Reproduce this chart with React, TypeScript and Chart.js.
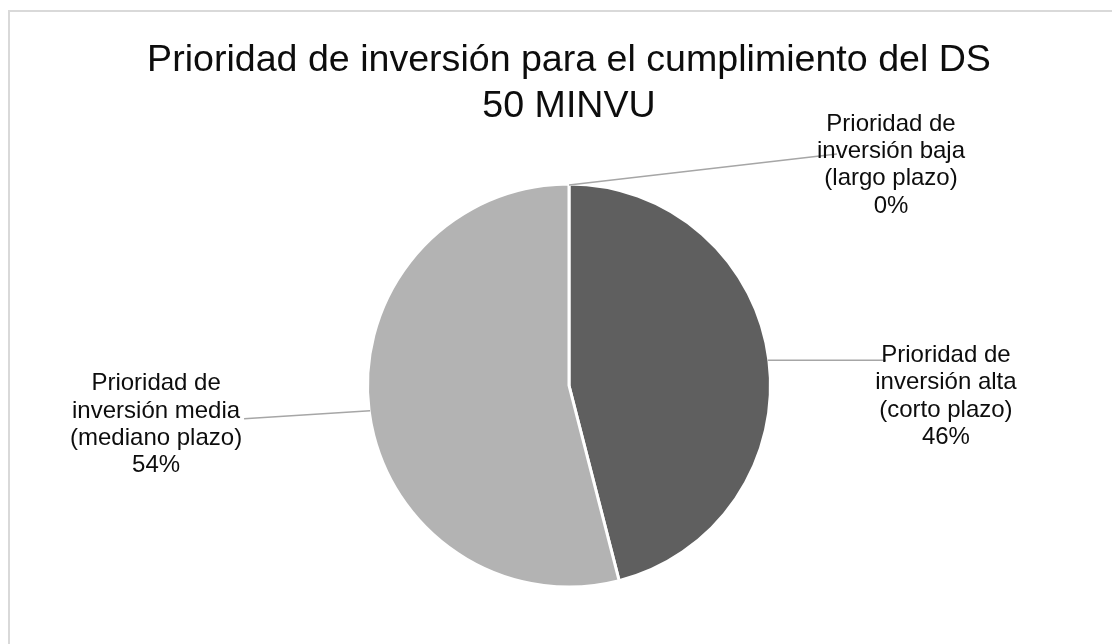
import React, { useEffect, useRef } from "react";
import { Chart, registerables } from "chart.js";

Chart.register(...registerables);

const TITLE_LINES = ["Prioridad de inversión para el cumplimiento del DS", "50 MINVU"];
const CATEGORY_LINES = [
  ["Prioridad de", "inversión alta", "(corto plazo)"],
  ["Prioridad de", "inversión media", "(mediano plazo)"],
  ["Prioridad de", "inversión baja", "(largo plazo)"],
];
const VALUES = [46, 54, 0];
const COLORS = ["#5f5f5f", "#b3b3b3", "#8c8c8c"];

// label layout: offset of label block centre from slice edge point, and leader end relative to label centre
const LABEL_OFFSET = [
  [178, 36],
  [-214, 14],
  [322, -20],
];
const LEADER_END = [
  [-60, -36],
  [88, -6],
  [-54, -11],
];

const FONT = '"Liberation Sans", Arial, sans-serif';

const labelPlugin = {
  id: "pieLabels",
  afterDraw(chart: any) {
    const ctx = chart.ctx;
    const meta = chart.getDatasetMeta(0);
    const total = VALUES.reduce((a, b) => a + b, 0);
    ctx.save();
    // title
    ctx.fillStyle = "#0d0d0d";
    ctx.font = `37.6px ${FONT}`;
    ctx.textAlign = "center";
    ctx.textBaseline = "middle";
    const cx = (chart.chartArea.left + chart.chartArea.right) / 2;
    TITLE_LINES.forEach((t, i) => ctx.fillText(t, cx, 61 + i * 46));

    meta.data.forEach((arc: any, i: number) => {
      const p = arc.getProps(["x", "y", "startAngle", "endAngle", "outerRadius"], true);
      const mid = (p.startAngle + p.endAngle) / 2;
      const ex = p.x + Math.cos(mid) * (p.outerRadius - 1);
      const ey = p.y + Math.sin(mid) * (p.outerRadius - 1);
      const lx = ex + LABEL_OFFSET[i][0];
      const ly = ey + LABEL_OFFSET[i][1];
      ctx.strokeStyle = "#a6a6a6";
      ctx.lineWidth = 1.5;
      ctx.beginPath();
      ctx.moveTo(ex, ey);
      ctx.lineTo(lx + LEADER_END[i][0], ly + LEADER_END[i][1]);
      ctx.stroke();
      const lines = [...CATEGORY_LINES[i], `${Math.round((VALUES[i] / total) * 100)}%`];
      ctx.fillStyle = "#0d0d0d";
      ctx.font = `24px ${FONT}`;
      const lh = 27.3;
      const top = ly - ((lines.length - 1) * lh) / 2;
      lines.forEach((t, j) => ctx.fillText(t, lx, top + j * lh));
    });
    ctx.restore();
  },
};

export default function App() {
  const ref = useRef<HTMLCanvasElement>(null);
  useEffect(() => {
    if (!ref.current) return;
    const chart = new Chart(ref.current, {
      type: "pie",
      data: {
        labels: CATEGORY_LINES.map((l) => l.join(" ")),
        datasets: [
          {
            data: VALUES,
            backgroundColor: COLORS,
            borderColor: "#ffffff",
            borderWidth: 3,
          },
        ],
      },
      options: {
        animation: false,
        responsive: false,
        maintainAspectRatio: false,
        layout: { padding: { left: 366, right: 340, top: 182, bottom: 55 } },
        plugins: {
          legend: { display: false },
          tooltip: { enabled: false },
          title: { display: false },
        },
      },
      plugins: [labelPlugin],
    });
    return () => chart.destroy();
  }, []);
  return (
    <div style={{ position: "fixed", left: 0, top: 0, width: 1112, height: 644, background: "#fff", overflow: "hidden" }}>
      <canvas ref={ref} width={1112} height={644} style={{ position: "absolute", left: 0, top: 0 }} />
      <div
        style={{
          position: "absolute",
          left: 8,
          top: 10,
          width: 1200,
          height: 800,
          border: "2px solid #d9d9d9",
          pointerEvents: "none",
        }}
      />
    </div>
  );
}
